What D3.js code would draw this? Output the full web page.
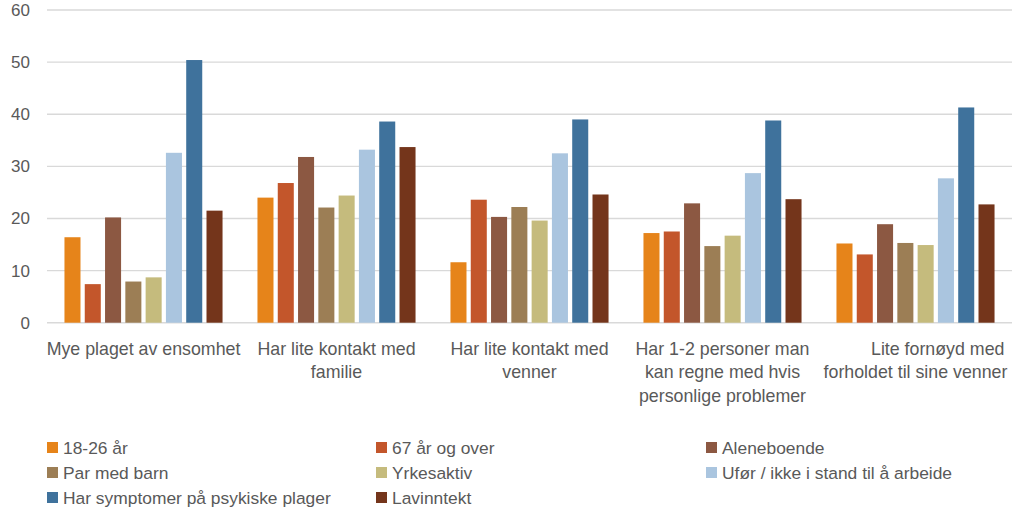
<!DOCTYPE html>
<html><head><meta charset="utf-8">
<script src="https://cdn.jsdelivr.net/npm/d3@7"></script>
<style>
html,body{margin:0;padding:0;background:#fff;}
svg text{font-family:"Liberation Sans Narrow","Liberation Sans",Arial,sans-serif;fill:#595959;}
</style></head>
<body><svg id="chart" width="1024" height="525"></svg>
<script>
const categories = [
  ["Mye plaget av ensomhet"],
  ["Har lite kontakt med", "familie"],
  ["Har lite kontakt med", "venner"],
  ["Har 1-2 personer man", "kan regne med hvis", "personlige problemer"],
  ["\u00a0\u00a0\u00a0\u00a0\u00a0\u00a0\u00a0\u00a0\u00a0Lite fornøyd med", "forholdet til sine venner"]
];
const seriesNames = ["18-26 år","67 år og over","Aleneboende","Par med barn","Yrkesaktiv","Ufør / ikke i stand til å arbeide","Har symptomer på psykiske plager","Lavinntekt"];
const seriesColors = ["#E6841A","#C3562B","#8C5842","#9C7E55","#C5BB7D","#AAC5DF","#3F729C","#74351B"];
const s18_26 = [16.4, 24.0, 11.6, 17.2, 15.2];
const s67 = [7.4, 26.8, 23.6, 17.5, 13.1];
const sAlene = [20.2, 31.8, 20.3, 22.9, 18.9];
const sPar = [7.9, 22.1, 22.2, 14.7, 15.3];
const sYrke = [8.7, 24.4, 19.6, 16.7, 14.9];
const sUfor = [32.6, 33.2, 32.5, 28.7, 27.7];
const sPsyk = [50.4, 38.6, 39.0, 38.8, 41.3];
const sLav = [21.5, 33.7, 24.6, 23.7, 22.7];
const yTicks = [0,10,20,30,40,50,60];

const series = [s18_26, s67, sAlene, sPar, sYrke, sUfor, sPsyk, sLav];
const svg = d3.select("#chart");
const mLeft = 47, mRight = 1012, mTop = 10, mBottom = 322.7;

const x0 = d3.scaleBand().domain(d3.range(categories.length)).range([mLeft, mRight]).paddingInner(0.181).paddingOuter(0.0905);
const x1 = d3.scaleBand().domain(d3.range(seriesNames.length)).range([0, x0.bandwidth()]).paddingInner(0.21);
const y = d3.scaleLinear().domain([0, 60]).range([mBottom, mTop]);

svg.append("g").selectAll("line").data(yTicks).join("line")
  .attr("x1", mLeft).attr("x2", mRight)
  .attr("y1", d => y(d)).attr("y2", d => y(d))
  .attr("stroke", "#D9D9D9").attr("stroke-width", 1.4);

svg.append("g").selectAll("text").data(yTicks).join("text")
  .attr("x", 30).attr("y", d => y(d)).attr("dy", "0.35em")
  .attr("text-anchor", "end").style("font-size", "17px")
  .text(d => d);

const g = svg.append("g");
series.forEach((vals, si) => {
  g.append("g").selectAll("rect").data(vals).join("rect")
    .attr("x", (d, ci) => x0(ci) + x1(si))
    .attr("width", x1.bandwidth())
    .attr("y", d => y(d))
    .attr("height", d => y(0) - y(d))
    .attr("fill", seriesColors[si]);
});

const cg = svg.append("g");
categories.forEach((lines, ci) => {
  const t = cg.append("text").attr("text-anchor", "middle").style("font-size", "17.8px");
  lines.forEach((ln, li) => {
    t.append("tspan").attr("x", x0(ci) + x0.bandwidth() / 2).attr("y", 355 + li * 23.4).text(ln);
  });
});

const legCols = [47, 376, 706];
const leg = svg.append("g");
seriesNames.forEach((name, i) => {
  const col = i % 3, row = Math.floor(i / 3);
  const lx = legCols[col], ly = 447.5 + row * 25;
  leg.append("rect").attr("x", lx).attr("y", ly - 5.5).attr("width", 11).attr("height", 11).attr("fill", seriesColors[i]);
  leg.append("text").attr("x", lx + 16).attr("y", ly).attr("dy", "0.35em").style("font-size", "17.4px").text(name);
});
</script></body></html>
